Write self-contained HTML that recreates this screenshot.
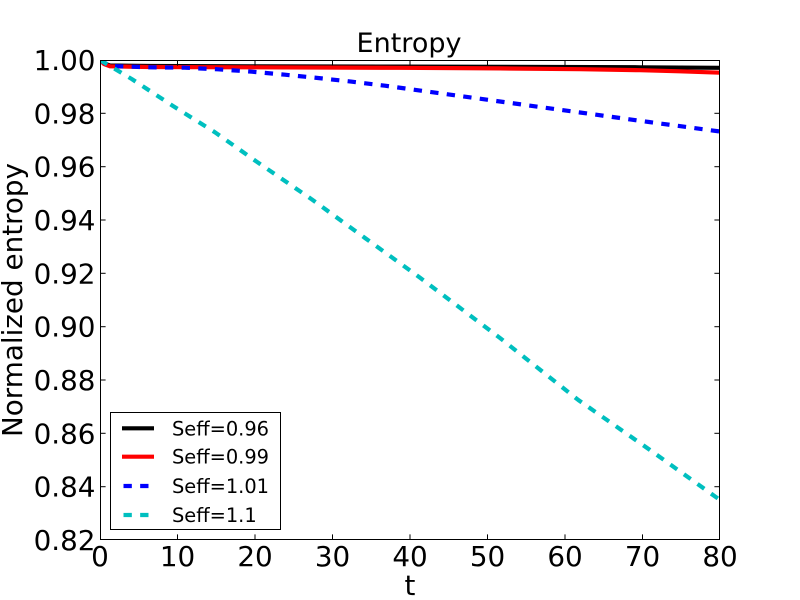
<!DOCTYPE html>
<html>
<head>
<meta charset="utf-8">
<style>
  html, body { margin: 0; padding: 0; background: #ffffff; }
  svg { display: block; }
  text { font-family: "DejaVu Sans", "Liberation Sans", sans-serif; fill: #000; }
</style>
</head>
<body>
<svg width="800" height="600" viewBox="0 0 800 600" xmlns="http://www.w3.org/2000/svg">
  <defs>
    <clipPath id="ax">
      <rect x="100" y="60" width="620" height="480"/>
    </clipPath>
  </defs>
  <rect x="0" y="0" width="800" height="600" fill="#ffffff"/>
  <rect x="100" y="60" width="620" height="480" fill="#ffffff"/>

  <!-- series -->
  <g clip-path="url(#ax)" fill="none" stroke-linejoin="round">
    <!-- Seff=0.96 black -->
    <polyline stroke="#000000" stroke-width="4.2" stroke-linecap="butt"
      points="100,60 104,63.5 110,65.5 150,66 250,66.3 400,66.6 550,67 640,67.3 720,67.8"/>
    <!-- Seff=0.99 red -->
    <polyline stroke="#ff0000" stroke-width="4.2" stroke-linecap="butt"
      points="100,60 104,64 110,66.3 150,67 250,67.3 400,67.8 500,68.4 580,69.2 640,70.2 680,71.3 720,72.7"/>
    <!-- Seff=1.01 blue dashed -->
    <polyline stroke="#0000ff" stroke-width="4.2" stroke-dasharray="8.33 8.33" stroke-linecap="butt"
      points="100,60 110,66 150,67.3 185,67.7 218,69.3 252,71.7 285,74.7 318,78 352,81.7 385,85.7 433,92.3 500,101.5 580,112.5 649,122 720,131.5"/>
    <!-- Seff=1.1 cyan dashed -->
    <polyline stroke="#00bfbf" stroke-width="4.2" stroke-dasharray="8.33 8.33" stroke-linecap="butt"
      points="100,60 131.7,79 173,106 215,132.3 256.7,161.7 311.7,199.3 365,238 420,277.7 500,338 578.3,400 650,450 720,500"/>
  </g>

  <!-- axes frame -->
  <rect x="100.5" y="60.5" width="619" height="479" fill="none" stroke="#000" stroke-width="1"/>

  <!-- ticks -->
  <g stroke="#000" stroke-width="1">
    <!-- x ticks bottom and top -->
    <line x1="177.5" y1="540" x2="177.5" y2="534.4"/>
    <line x1="255" y1="540" x2="255" y2="534.4"/>
    <line x1="332.5" y1="540" x2="332.5" y2="534.4"/>
    <line x1="410" y1="540" x2="410" y2="534.4"/>
    <line x1="487.5" y1="540" x2="487.5" y2="534.4"/>
    <line x1="565" y1="540" x2="565" y2="534.4"/>
    <line x1="642.5" y1="540" x2="642.5" y2="534.4"/>
    <line x1="177.5" y1="60" x2="177.5" y2="65.6"/>
    <line x1="255" y1="60" x2="255" y2="65.6"/>
    <line x1="332.5" y1="60" x2="332.5" y2="65.6"/>
    <line x1="410" y1="60" x2="410" y2="65.6"/>
    <line x1="487.5" y1="60" x2="487.5" y2="65.6"/>
    <line x1="565" y1="60" x2="565" y2="65.6"/>
    <line x1="642.5" y1="60" x2="642.5" y2="65.6"/>
    <!-- y ticks left and right -->
    <line x1="100" y1="113.3" x2="105.6" y2="113.3"/>
    <line x1="100" y1="166.7" x2="105.6" y2="166.7"/>
    <line x1="100" y1="220" x2="105.6" y2="220"/>
    <line x1="100" y1="273.3" x2="105.6" y2="273.3"/>
    <line x1="100" y1="326.7" x2="105.6" y2="326.7"/>
    <line x1="100" y1="380" x2="105.6" y2="380"/>
    <line x1="100" y1="433.3" x2="105.6" y2="433.3"/>
    <line x1="100" y1="486.7" x2="105.6" y2="486.7"/>
    <line x1="720" y1="113.3" x2="714.4" y2="113.3"/>
    <line x1="720" y1="166.7" x2="714.4" y2="166.7"/>
    <line x1="720" y1="220" x2="714.4" y2="220"/>
    <line x1="720" y1="273.3" x2="714.4" y2="273.3"/>
    <line x1="720" y1="326.7" x2="714.4" y2="326.7"/>
    <line x1="720" y1="380" x2="714.4" y2="380"/>
    <line x1="720" y1="433.3" x2="714.4" y2="433.3"/>
    <line x1="720" y1="486.7" x2="714.4" y2="486.7"/>
  </g>

  <!-- y tick labels -->
  <g font-size="27.8" text-anchor="end">
    <text x="95.5" y="70">1.00</text>
    <text x="95.5" y="123.3">0.98</text>
    <text x="95.5" y="176.7">0.96</text>
    <text x="95.5" y="230">0.94</text>
    <text x="95.5" y="283.3">0.92</text>
    <text x="95.5" y="336.7">0.90</text>
    <text x="95.5" y="390">0.88</text>
    <text x="95.5" y="443.3">0.86</text>
    <text x="95.5" y="496.7">0.84</text>
    <text x="95.5" y="550">0.82</text>
  </g>

  <!-- x tick labels -->
  <g font-size="27.8" text-anchor="middle">
    <text x="100" y="566">0</text>
    <text x="177.5" y="566">10</text>
    <text x="255" y="566">20</text>
    <text x="332.5" y="566">30</text>
    <text x="410" y="566">40</text>
    <text x="487.5" y="566">50</text>
    <text x="565" y="566">60</text>
    <text x="642.5" y="566">70</text>
    <text x="720" y="566">80</text>
  </g>

  <!-- axis labels and title -->
  <text x="410" y="595" font-size="27.8" text-anchor="middle">t</text>
  <text transform="translate(22,300) rotate(-90)" x="0" y="0" font-size="27.8" text-anchor="middle">Normalized entropy</text>
  <text x="409" y="52" font-size="27" text-anchor="middle">Entropy</text>

  <!-- legend -->
  <rect x="110.5" y="412.5" width="170" height="117" fill="#ffffff" stroke="#000" stroke-width="1"/>
  <g fill="none" stroke-width="4.2">
    <line x1="122" y1="428.3" x2="154" y2="428.3" stroke="#000000"/>
    <line x1="122" y1="456.7" x2="154" y2="456.7" stroke="#ff0000"/>
    <line x1="123.5" y1="486" x2="155" y2="486" stroke="#0000ff" stroke-dasharray="8.33 8.33"/>
    <line x1="123.5" y1="515" x2="155" y2="515" stroke="#00bfbf" stroke-dasharray="8.33 8.33"/>
  </g>
  <g font-size="19.4">
    <text x="172" y="435.3">Seff=0.96</text>
    <text x="172" y="463.7">Seff=0.99</text>
    <text x="172" y="493">Seff=1.01</text>
    <text x="172" y="522">Seff=1.1</text>
  </g>
</svg>
</body>
</html>
